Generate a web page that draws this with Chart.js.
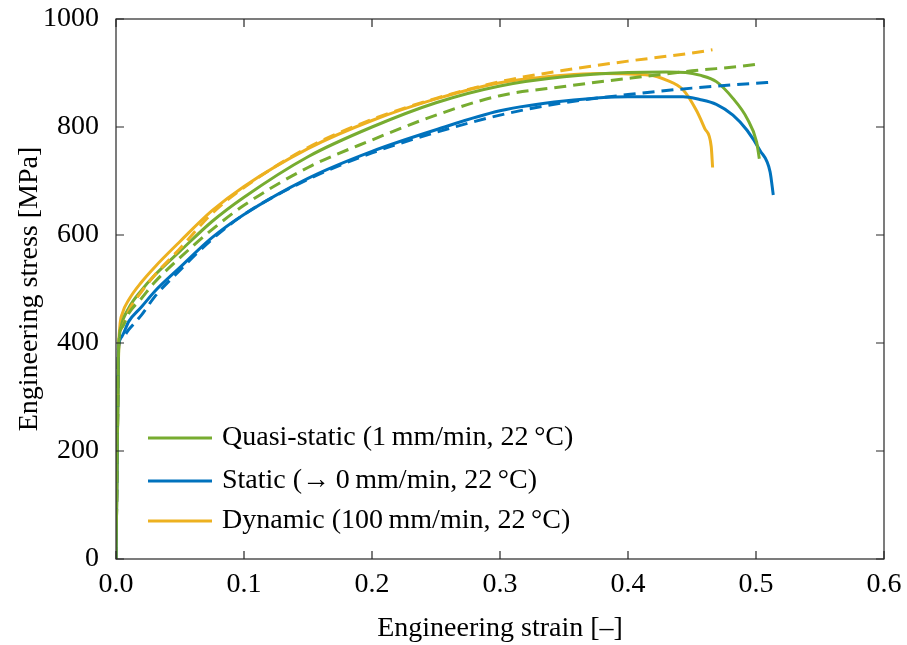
<!DOCTYPE html>
<html>
<head>
<meta charset="utf-8">
<script src="https://cdn.jsdelivr.net/npm/chart.js@4.4.0/dist/chart.umd.min.js"></script>
<style>
  html,body{margin:0;padding:0;background:#fff;}
  #wrap{width:907px;height:645px;position:relative;}
</style>
</head>
<body>
<div id="wrap"><canvas id="chart" width="907" height="645"></canvas></div>
<script>
// strain [-] / stress [MPa]
const quasiStrain=[0,0.001,0.002,0.004,0.01,0.02,0.03,0.05,0.075,0.1,0.15,0.2,0.25,0.3,0.35,0.4,0.43,0.445,0.456,0.469,0.482,0.493,0.5005,0.5026]
const quasiStress=[0,200,380,430,465,498,525,570,625,670,745,800,845,876,893,901,902,901,896,884,853,816,772,741]
const quasiModelStrain=[0,0.001,0.002,0.005,0.01,0.02,0.03,0.05,0.075,0.1,0.15,0.2,0.25,0.3,0.35,0.4,0.45,0.5,0.502]
const quasiModelStress=[0,200,395,430,455,483,512,558,610,655,725,776,822,858,875,890,904,916,917]

const staticStrain=[0,0.001,0.002,0.004,0.01,0.02,0.03,0.05,0.075,0.1,0.15,0.2,0.25,0.3,0.35,0.4,0.443,0.456,0.469,0.482,0.493,0.503,0.511,0.5135]
const staticStress=[0,200,390,410,440,467,495,540,595,638,705,755,795,830,848,856,856,851,842,822,794,757,717,674]
const staticModelStrain=[0,0.001,0.002,0.005,0.01,0.02,0.03,0.05,0.075,0.1,0.15,0.2,0.25,0.3,0.35,0.4,0.45,0.5,0.513]
const staticModelStress=[0,200,395,410,425,452,485,535,592,638,703,752,790,822,845,860,872,881,883]

const dynStrain=[0,0.001,0.002,0.003,0.005,0.01,0.02,0.03,0.05,0.075,0.1,0.15,0.2,0.25,0.3,0.35,0.378,0.417,0.43,0.443,0.4536,0.46,0.465,0.4661]
const dynStress=[0,200,380,430,455,480,513,540,588,645,690,760,812,852,882,896,899,896,887,869,830,797,764,725]
const dynModelStrain=[0,0.001,0.002,0.005,0.01,0.02,0.03,0.05,0.075,0.1,0.15,0.2,0.25,0.3,0.35,0.4,0.45,0.466]
const dynModelStress=[0,200,390,430,460,495,525,575,640,688,762,814,853,884,905,922,937,943]

const xTicks=[0,0.1,0.2,0.3,0.4,0.5,0.6]
const yTicks=[0,200,400,600,800,1000]

const legendNames=["Quasi-static (1\u2009mm/min, 22\u2009\u00B0C)","Static (\u2192\u20090\u2009mm/min, 22\u2009\u00B0C)","Dynamic (100\u2009mm/min, 22\u2009\u00B0C)"]
const colores=["#77AC30","#0072BD","#EDB120"]

const FONT="'Liberation Serif','Times New Roman',serif"
const FS=28

function pts(xs,ys){ return xs.map((x,i)=>({x:x,y:ys[i]})) }

function serie(xs,ys,color,dashed){
    return {
        data:pts(xs,ys),
        borderColor:color,
        backgroundColor:color,
        borderWidth:3,
        borderDash:dashed?[12,7]:[],
        pointRadius:0,
        fill:false,
        cubicInterpolationMode:'monotone'
    }
}

const boxPlugin={
    id:'box',
    afterDraw(chart){
        const ctx=chart.ctx
        const a=chart.chartArea
        const xs=chart.scales.x, ys=chart.scales.y
        ctx.save()
        ctx.strokeStyle="#262626"
        ctx.lineWidth=1.2
        ctx.strokeRect(a.left,a.top,a.right-a.left,a.bottom-a.top)
        ctx.beginPath()
        xTicks.forEach(t=>{
            const p=xs.getPixelForValue(t)
            ctx.moveTo(p,a.bottom); ctx.lineTo(p,a.bottom-8)
            ctx.moveTo(p,a.top); ctx.lineTo(p,a.top+8)
        })
        yTicks.forEach(t=>{
            const p=ys.getPixelForValue(t)
            ctx.moveTo(a.left,p); ctx.lineTo(a.left+8,p)
            ctx.moveTo(a.right,p); ctx.lineTo(a.right-8,p)
        })
        ctx.stroke()

        // legend (solid lines only)
        ctx.font=FS+"px "+FONT
        ctx.fillStyle="#000"
        ctx.textBaseline="middle"
        const rows=[438,481,521]
        legendNames.forEach((n,i)=>{
            ctx.strokeStyle=colores[i]
            ctx.lineWidth=3
            ctx.setLineDash([])
            ctx.beginPath()
            ctx.moveTo(148,rows[i]); ctx.lineTo(212,rows[i])
            ctx.stroke()
            ctx.fillText(n,222,rows[i])
        })
        ctx.restore()
    }
}

const ctx=document.getElementById('chart').getContext('2d')
const myChart=new Chart(ctx,{
    type:'line',
    data:{
        datasets:[
            serie(quasiModelStrain,quasiModelStress,colores[0],true),
            serie(staticModelStrain,staticModelStress,colores[1],true),
            serie(dynModelStrain,dynModelStress,colores[2],true),
            serie(quasiStrain,quasiStress,colores[0],false),
            serie(staticStrain,staticStress,colores[1],false),
            serie(dynStrain,dynStress,colores[2],false)
        ]
    },
    options:{
        responsive:false,
        animation:false,
        layout:{padding:{left:13,right:23,top:19,bottom:0}},
        plugins:{legend:{display:false},tooltip:{enabled:false}},
        scales:{
            x:{
                type:'linear',min:0,max:0.6,
                afterBuildTicks:s=>{s.ticks=xTicks.map(v=>({value:v}))},
                afterFit:s=>{s.height=86;s.paddingLeft=0;s.paddingRight=0},
                grid:{display:false},
                border:{display:false},
                ticks:{color:'#000',font:{family:FONT,size:FS},padding:1,maxRotation:0,
                    callback:v=>v.toFixed(1)},
                title:{display:true,text:'Engineering strain [\u2013]',color:'#000',
                    font:{family:FONT,size:FS},padding:{top:0,bottom:0}}
            },
            y:{
                type:'linear',min:0,max:1000,
                afterBuildTicks:s=>{s.ticks=yTicks.map(v=>({value:v}))},
                afterFit:s=>{s.width=103;s.paddingTop=0;s.paddingBottom=0},
                grid:{display:false},
                border:{display:false},
                ticks:{color:'#000',font:{family:FONT,size:FS},padding:9,
                    callback:v=>String(v)},
                title:{display:true,text:'Engineering stress [MPa]',color:'#000',
                    font:{family:FONT,size:FS},padding:{top:0,bottom:0}}
            }
        }
    },
    plugins:[boxPlugin]
})
</script>
</body>
</html>
